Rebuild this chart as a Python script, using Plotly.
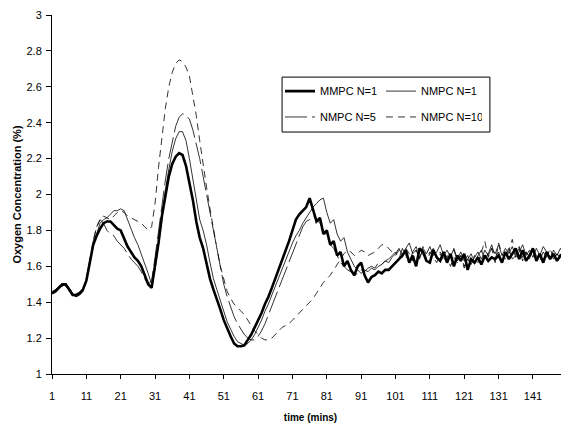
import plotly.graph_objects as go

time = list(range(1, 151))

mmpc_n1 = [
    1.45, 1.46, 1.48, 1.50, 1.50, 1.47, 1.44, 1.44, 1.45, 1.47,
    1.52, 1.62, 1.72, 1.77, 1.81, 1.84, 1.85, 1.85, 1.83, 1.81,
    1.80, 1.75, 1.71, 1.68, 1.65, 1.63, 1.60, 1.55, 1.50, 1.48,
    1.60, 1.73, 1.88, 2.00, 2.10, 2.17, 2.21, 2.23, 2.22, 2.16,
    2.07, 1.97, 1.85, 1.76, 1.70, 1.62, 1.53, 1.47, 1.42, 1.36,
    1.30, 1.25, 1.21, 1.17, 1.155, 1.155, 1.16, 1.19, 1.22, 1.26,
    1.30, 1.34, 1.39, 1.43, 1.48, 1.53, 1.58, 1.63, 1.68, 1.74,
    1.80, 1.86, 1.89, 1.91, 1.93, 1.98, 1.92, 1.85, 1.87, 1.78,
    1.80, 1.72, 1.74, 1.66, 1.68, 1.60, 1.63, 1.58, 1.55, 1.60,
    1.62, 1.55, 1.51, 1.54, 1.55, 1.57, 1.56, 1.58, 1.58, 1.60,
    1.62, 1.64, 1.66, 1.69, 1.62, 1.66, 1.60, 1.70, 1.68, 1.63,
    1.62, 1.69, 1.65, 1.63, 1.68, 1.62, 1.67, 1.60, 1.66, 1.63,
    1.67, 1.58, 1.64, 1.62, 1.65, 1.61, 1.66, 1.63, 1.65, 1.64,
    1.66, 1.62, 1.68, 1.64, 1.67, 1.70, 1.64, 1.69, 1.63, 1.66,
    1.70, 1.63, 1.67, 1.62, 1.68, 1.64, 1.67, 1.63, 1.66, 1.65,
]

nmpc_n1 = [
    1.45, 1.47, 1.48, 1.49, 1.50, 1.48, 1.45, 1.43, 1.44, 1.46,
    1.52, 1.62, 1.72, 1.78, 1.84, 1.86, 1.87, 1.89, 1.91, 1.91,
    1.92, 1.91, 1.86, 1.80, 1.76, 1.72, 1.67, 1.62, 1.56, 1.50,
    1.58, 1.72, 1.88, 2.02, 2.14, 2.24, 2.31, 2.35, 2.35, 2.30,
    2.20, 2.08, 1.96, 1.86, 1.80, 1.72, 1.62, 1.53, 1.47, 1.41,
    1.35, 1.29, 1.25, 1.21, 1.18, 1.17, 1.16, 1.17, 1.19, 1.22,
    1.26, 1.30, 1.35, 1.39, 1.44, 1.49, 1.54, 1.59, 1.64, 1.69,
    1.73, 1.77, 1.80, 1.84, 1.87, 1.90, 1.93, 1.95, 1.97, 1.98,
    1.90, 1.84, 1.86, 1.78, 1.74, 1.76, 1.68, 1.64, 1.60, 1.58,
    1.56, 1.58, 1.57, 1.59, 1.58, 1.60, 1.61, 1.63, 1.62, 1.65,
    1.67, 1.70, 1.66, 1.70, 1.73, 1.67, 1.69, 1.64, 1.70, 1.67,
    1.71, 1.66, 1.68, 1.72, 1.66, 1.69, 1.65, 1.70, 1.64, 1.68,
    1.63, 1.66, 1.61, 1.65, 1.68, 1.64, 1.69, 1.66, 1.70, 1.67,
    1.72, 1.66, 1.70, 1.67, 1.71, 1.65, 1.68, 1.72, 1.66, 1.69,
    1.65, 1.70, 1.66, 1.71, 1.68, 1.64, 1.69, 1.66, 1.70, 1.67,
]

nmpc_n5 = [
    1.46, 1.47, 1.49, 1.50, 1.49, 1.47, 1.44, 1.43, 1.44, 1.47,
    1.53, 1.64, 1.74, 1.82, 1.86, 1.84, 1.80, 1.78, 1.77, 1.74,
    1.72, 1.70, 1.67, 1.64, 1.62, 1.60, 1.57, 1.53, 1.50, 1.52,
    1.65, 1.80, 1.95, 2.08, 2.20, 2.30, 2.38, 2.43, 2.45, 2.44,
    2.42, 2.36, 2.28, 2.20, 2.10, 2.00, 1.88, 1.78, 1.68, 1.58,
    1.50, 1.43, 1.37, 1.32, 1.28, 1.25, 1.22, 1.20, 1.19, 1.19,
    1.21, 1.24, 1.28, 1.33, 1.38, 1.43, 1.48, 1.53, 1.58, 1.63,
    1.68, 1.73, 1.78, 1.82, 1.85, 1.86, 1.88, 1.86, 1.84, 1.80,
    1.77, 1.72, 1.70, 1.66, 1.62, 1.60, 1.58, 1.57, 1.55, 1.56,
    1.58, 1.57, 1.59, 1.60, 1.59, 1.62, 1.61, 1.63, 1.64, 1.66,
    1.68, 1.64, 1.70, 1.66, 1.62, 1.68, 1.71, 1.65, 1.69, 1.63,
    1.67, 1.70, 1.64, 1.68, 1.65, 1.62, 1.67, 1.69, 1.63, 1.66,
    1.60, 1.64, 1.67, 1.62, 1.66, 1.69, 1.64, 1.67, 1.72, 1.65,
    1.68, 1.63, 1.67, 1.70, 1.64, 1.66, 1.71, 1.65, 1.68, 1.64,
    1.70, 1.66, 1.63, 1.68, 1.65, 1.70, 1.64, 1.67, 1.65, 1.66,
]

nmpc_n10 = [
    1.45, 1.46, 1.48, 1.49, 1.50, 1.48, 1.45, 1.43, 1.44, 1.46,
    1.52, 1.63, 1.74, 1.82, 1.86, 1.88, 1.87, 1.86, 1.88, 1.90,
    1.91, 1.90, 1.88, 1.87, 1.86, 1.85, 1.84, 1.82, 1.80, 1.82,
    1.95, 2.15, 2.32, 2.48, 2.60, 2.68, 2.73, 2.75, 2.74, 2.71,
    2.66, 2.56, 2.44, 2.30, 2.16, 2.04, 1.92, 1.80, 1.70, 1.60,
    1.53, 1.46, 1.42, 1.39, 1.37, 1.35, 1.33, 1.30, 1.27, 1.24,
    1.22, 1.20, 1.19, 1.19, 1.20, 1.22, 1.24, 1.26, 1.27, 1.28,
    1.30, 1.32, 1.34, 1.36, 1.38, 1.40, 1.42, 1.45, 1.48, 1.51,
    1.53, 1.55, 1.58, 1.61, 1.64, 1.67, 1.69, 1.68, 1.66, 1.67,
    1.69, 1.68, 1.66, 1.67, 1.68, 1.70, 1.72, 1.72, 1.70, 1.68,
    1.66, 1.69, 1.65, 1.70, 1.67, 1.63, 1.69, 1.66, 1.71, 1.64,
    1.68, 1.65, 1.62, 1.67, 1.63, 1.66, 1.60, 1.65, 1.62, 1.66,
    1.59, 1.64, 1.61, 1.66, 1.62, 1.68, 1.74, 1.65, 1.70, 1.62,
    1.73, 1.67, 1.64, 1.69, 1.75, 1.66, 1.70, 1.63, 1.68, 1.65,
    1.69, 1.64, 1.67, 1.63, 1.68, 1.65, 1.66, 1.64, 1.67, 1.65,
]

x_tickvals = [1, 11, 21, 31, 41, 51, 61, 71, 81, 91, 101, 111, 121, 131, 141]
x_ticktext = [str(v) for v in x_tickvals]
y_tickvals = [1, 1.2, 1.4, 1.6, 1.8, 2, 2.2, 2.4, 2.6, 2.8, 3]
y_ticktext = ["1", "1.2", "1.4", "1.6", "1.8", "2", "2.2", "2.4", "2.6", "2.8", "3"]

FONT = "Liberation Sans, Arial, sans-serif"

fig = go.Figure()
fig.add_trace(go.Scatter(x=time, y=mmpc_n1, mode="lines", name="MMPC N=1",
                         line=dict(color="black", width=2.6), legend="legend"))
fig.add_trace(go.Scatter(x=time, y=nmpc_n1, mode="lines", name="NMPC N=1",
                         line=dict(color="black", width=0.8), legend="legend"))
fig.add_trace(go.Scatter(x=time, y=nmpc_n5, mode="lines", name="NMPC N=5",
                         line=dict(color="black", width=0.8, dash="22px,5px"), legend="legend2"))
fig.add_trace(go.Scatter(x=time, y=nmpc_n10, mode="lines", name="NMPC N=10",
                         line=dict(color="black", width=0.8, dash="7px,5px"), legend="legend2"))

leg_common = dict(orientation="h", bgcolor="rgba(0,0,0,0)", borderwidth=0,
                  font=dict(family=FONT, size=11, color="black"),
                  itemwidth=30, entrywidth=56, entrywidthmode="pixels",
                  xanchor="left", yanchor="middle", traceorder="normal")

fig.update_layout(
    width=561, height=415,
    margin=dict(l=44, r=0, t=7, b=49),
    paper_bgcolor="white", plot_bgcolor="white",
    font=dict(family=FONT, size=11, color="black"),
    legend=dict(x=0.441, y=0.788, **leg_common),
    legend2=dict(x=0.441, y=0.716, **leg_common),
    xaxis=dict(range=[1, 151.5], tickmode="array", tickvals=x_tickvals, ticktext=x_ticktext,
               showline=True, linecolor="black", linewidth=1, ticks="outside", ticklen=4,
               tickcolor="black", showgrid=False, zeroline=False, ticklabelstandoff=8,
               tickfont=dict(family=FONT, size=11),
               title=dict(text="<b>time (mins)</b>", font=dict(family=FONT, size=10), standoff=15)),
    yaxis=dict(range=[1, 3], tickmode="array", tickvals=y_tickvals, ticktext=y_ticktext,
               showline=True, linecolor="black", linewidth=1, ticks="outside", ticklen=5,
               tickcolor="black", showgrid=False, zeroline=False, ticklabelstandoff=2,
               tickfont=dict(family=FONT, size=11),
               title=dict(text="<b>Oxygen Concentration (%)</b>", font=dict(family=FONT, size=11), standoff=2)),
    shapes=[dict(type="rect", xref="paper", yref="paper", x0=0.445, x1=0.847, y0=0.674, y1=0.827,
                 line=dict(color="black", width=1), fillcolor="rgba(0,0,0,0)")],
    showlegend=True,
)

fig.write_html("out.html")
